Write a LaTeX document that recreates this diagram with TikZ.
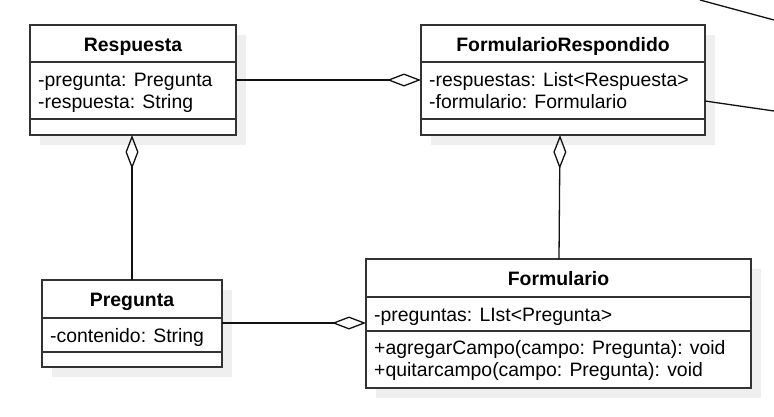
\documentclass[tikz,border=0pt]{standalone}
\usepackage{fontspec}
\setmainfont{Liberation Sans}
\usetikzlibrary{arrows.meta}
\definecolor{ink}{HTML}{333333}
\definecolor{lineink}{HTML}{111111}
\definecolor{shade}{HTML}{EFEFEF}
\begin{document}
\begin{tikzpicture}[x=1pt,y=-1pt,
  classbox/.style={draw=ink, line width=2pt, fill=white, inner sep=0pt, outer sep=0pt, anchor=north west},
  shadowbox/.style={fill=shade, draw=none, inner sep=0pt, outer sep=0pt, anchor=north west},
  divider/.style={draw=ink, line width=2pt},
  title/.style={font=\fontsize{19.4pt}{22pt}\selectfont\bfseries, anchor=base, inner sep=0pt, text=black},
  member/.style={font=\fontsize{19.4pt}{22pt}\selectfont, anchor=base west, inner sep=0pt, text=black},
  aggr/.style={draw=lineink, line width=1.3pt, {Diamond[open,length=34pt,width=13pt]}-},
  plain/.style={draw=lineink, line width=1.3pt},
]
\useasboundingbox (0,0) rectangle (774,416);

% shadows
\node[shadowbox, minimum width=206pt, minimum height=110pt] (RespShadow) at (40,35) {};
\node[shadowbox, minimum width=284pt, minimum height=110pt] (FRShadow) at (431,35) {};
\node[shadowbox, minimum width=180pt, minimum height=87pt] (PregShadow) at (52,290) {};
\node[shadowbox, minimum width=385pt, minimum height=129pt] (FormShadow) at (376,269) {};

% class boxes
\node[classbox, minimum width=206pt, minimum height=110pt] (Resp) at (30,25) {};
\node[classbox, minimum width=284pt, minimum height=110pt] (FR) at (421,25) {};
\node[classbox, minimum width=180pt, minimum height=87pt] (Preg) at (42,280) {};
\node[classbox, minimum width=385pt, minimum height=129pt] (Form) at (366,259) {};

% dividers
\draw[divider] (Resp.west |- 0,62) -- (Resp.east |- 0,62);
\draw[divider] (Resp.west |- 0,119) -- (Resp.east |- 0,119);
\draw[divider] (FR.west |- 0,62) -- (FR.east |- 0,62);
\draw[divider] (FR.west |- 0,119) -- (FR.east |- 0,119);
\draw[divider] (Preg.west |- 0,318) -- (Preg.east |- 0,318);
\draw[divider] (Preg.west |- 0,352) -- (Preg.east |- 0,352);
\draw[divider] (Form.west |- 0,297) -- (Form.east |- 0,297);
\draw[divider] (Form.west |- 0,331) -- (Form.east |- 0,331);

% texts
\node[title] (RespT) at (133,51) {Respuesta};
\node[member] (RespA1) at (38,86.5) {-pregunta: Pregunta};
\node[member] (RespA2) at (38,108.5) {-respuesta: String};

\node[title] (FRT) at (563,51) {FormularioRespondido};
\node[member] (FRA1) at (429,86.5) {-respuestas: List<Respuesta>};
\node[member] (FRA2) at (429,108.5) {-formulario: Formulario};

\node[title] (PregT) at (132,306) {Pregunta};
\node[member] (PregA1) at (50,342) {-contenido: String};

\node[title] (FormT) at (558.5,285) {Formulario};
\node[member] (FormA1) at (374,321) {-preguntas: LIst<Pregunta>};
\node[member] (FormM1) at (374,354) {+agregarCampo(campo: Pregunta): void};
\node[member] (FormM2) at (374,376) {+quitarcampo(campo: Pregunta): void};

% connectors
\draw[aggr] (FR.west |- 0,80) -- (Resp.east |- 0,80);
\draw[aggr] (Resp.south -| 132,0) -- (Preg.north -| 132,0);
\draw[aggr] (Form.west |- 0,323) -- (Preg.east |- 0,323);
\draw[aggr] (FR.south -| 560,0) -- (Form.north -| 559,0);

% lines leaving the picture
\coordinate (offA) at (700,0);
\coordinate (offB) at (774,20);
\coordinate (offC) at (774,111);
\draw[plain] (offA) -- (offB);
\draw[plain] (FR.east |- 0,101) -- (offC);
\end{tikzpicture}
\end{document}
